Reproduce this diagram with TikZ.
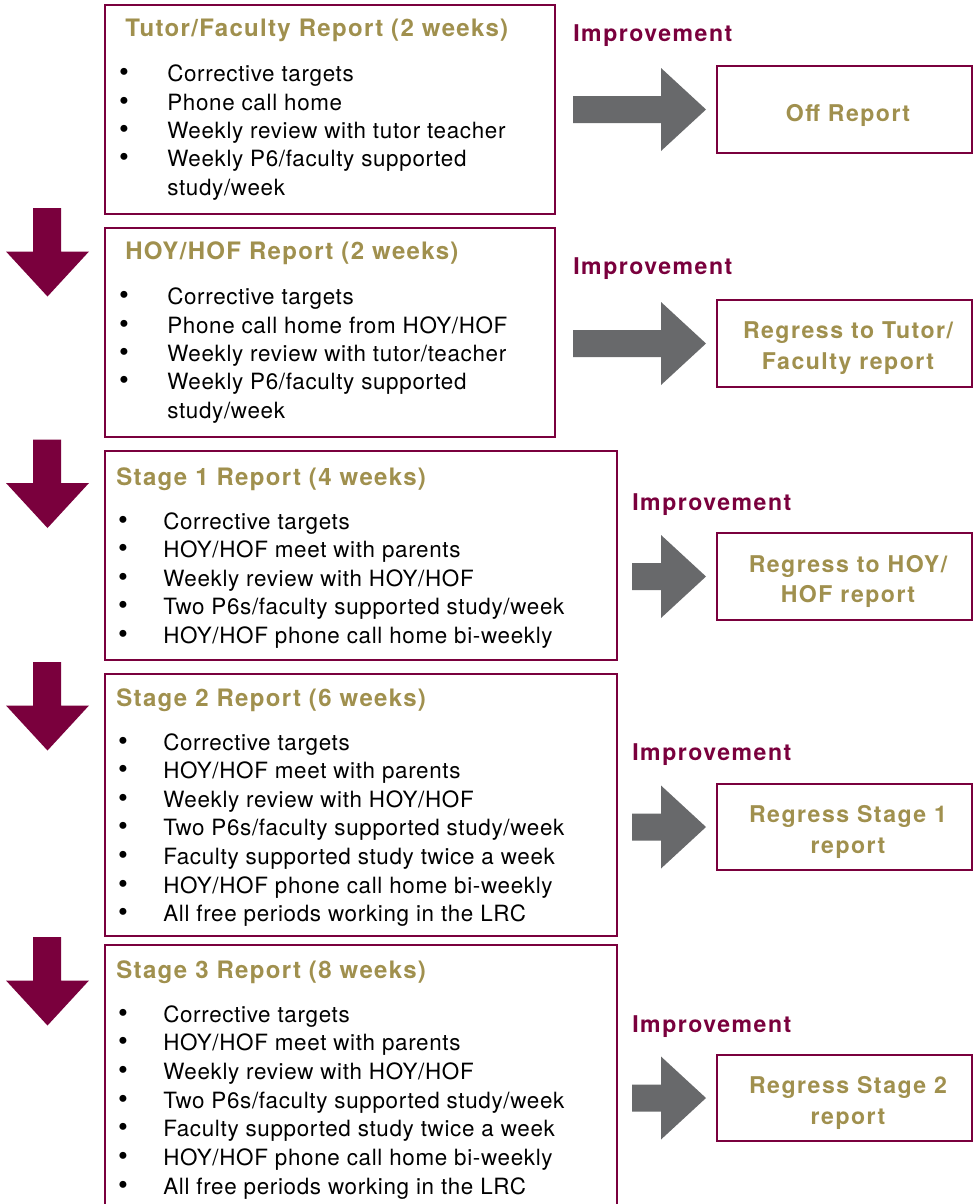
\documentclass[tikz,border=0pt]{standalone}
\usepackage{fontspec}
\setmainfont{TeX Gyre Heros}
\newfontfamily\bodyf[LetterSpace=3]{TeX Gyre Heros}
\newfontfamily\headf[LetterSpace=6.5]{TeX Gyre Heros}
\newfontfamily\titf[LetterSpace=5.5]{TeX Gyre Heros}
\usetikzlibrary{fit}
\definecolor{repmaroon}{RGB}{122,0,61}
\definecolor{repgold}{RGB}{160,144,78}
\definecolor{repgrey}{RGB}{104,105,107}
\newcommand\bitem[5]{%
  \node[bulsty] (#1b) at (#2,#4) {•};
  \node[itemsty] (#1) at (#3,#4) {#5};}
\begin{document}
\begin{tikzpicture}[x=0.75pt,y=-0.75pt,
  box/.style={draw=repmaroon, line width=2pt, inner sep=0pt},
  titlesty/.style={anchor=base west, inner sep=0pt, text=repgold, font=\titf\bfseries\fontsize{18}{21}\selectfont},
  impsty/.style={anchor=base west, inner sep=0pt, text=repmaroon, font=\headf\bfseries\fontsize{17.3}{21}\selectfont},
  restext/.style={anchor=base, inner sep=0pt, text=repgold, font=\headf\bfseries\fontsize{17.3}{21}\selectfont},
  itemsty/.style={anchor=base west, inner sep=0pt, text=black, font=\bodyf\fontsize{16.8}{20}\selectfont},
  bulsty/.style={anchor=base, inner sep=0pt, text=black, font=\bodyf\fontsize{21}{20}\selectfont},
  downarr/.style={fill=repmaroon, draw=none},
  rightarr/.style={fill=repgrey, draw=none}]
\clip (0,0) rectangle (979,1204);
\fill[white] (0,0) rectangle (979,1204);

% ---------- left boxes ----------
\coordinate (b1nw) at (105,5);   \coordinate (b1se) at (555,214);
\coordinate (b2nw) at (105,228); \coordinate (b2se) at (555,437);
\coordinate (b3nw) at (105,451); \coordinate (b3se) at (617,660);
\coordinate (b4nw) at (105,674); \coordinate (b4se) at (617,936);
\coordinate (b5nw) at (105,945); \coordinate (b5se) at (617,1215);
\node[box, fit=(b1nw)(b1se)] (box1) {};
\node[box, fit=(b2nw)(b2se)] (box2) {};
\node[box, fit=(b3nw)(b3se)] (box3) {};
\node[box, fit=(b4nw)(b4se)] (box4) {};
\node[box, fit=(b5nw)(b5se)] (box5) {};

% ---------- right boxes ----------
\coordinate (r1nw) at (717,66);   \coordinate (r1se) at (972,153);
\coordinate (r2nw) at (717,300);  \coordinate (r2se) at (972,387);
\coordinate (r3nw) at (717,533);  \coordinate (r3se) at (972,620);
\coordinate (r4nw) at (717,784);  \coordinate (r4se) at (972,870);
\coordinate (r5nw) at (717,1055); \coordinate (r5se) at (972,1141);
\node[box, fit=(r1nw)(r1se)] (res1) {};
\node[box, fit=(r2nw)(r2se)] (res2) {};
\node[box, fit=(r3nw)(r3se)] (res3) {};
\node[box, fit=(r4nw)(r4se)] (res4) {};
\node[box, fit=(r5nw)(r5se)] (res5) {};

\node[restext] (res1t) at (848,121) {Off Report};
\node[restext] (res2t1) at (848,338) {Regress to Tutor/};
\node[restext] (res2t2) at (848,369) {Faculty report};
\node[restext] (res3t1) at (848,572) {Regress to HOY/};
\node[restext] (res3t2) at (848,602) {HOF report};
\node[restext] (res4t1) at (848,822) {Regress Stage 1};
\node[restext] (res4t2) at (848,853) {report};
\node[restext] (res5t1) at (848,1093) {Regress Stage 2};
\node[restext] (res5t2) at (848,1124) {report};

% ---------- Improvement labels ----------
\node[impsty] (imp1) at (573,41) {Improvement};
\node[impsty] (imp2) at (573,274) {Improvement};
\node[impsty] (imp3) at (632,510) {Improvement};
\node[impsty] (imp4) at (632,760) {Improvement};
\node[impsty] (imp5) at (632,1032) {Improvement};

% ---------- grey arrows ----------
\foreach \s/\c in {573/109.5, 573/343.5, 632/576.5, 632/827, 632/1098}{
  \fill[rightarr] (\s,\c-13.5) -- (661,\c-13.5) -- (661,\c-41.5) -- (706,\c)
     -- (661,\c+41.5) -- (661,\c+13.5) -- (\s,\c+13.5) -- cycle;
}

% ---------- maroon down arrows ----------
\foreach \t in {208, 439.5, 662, 937}{
  \fill[downarr] (33,\t) -- (61,\t) -- (61,\t+43.5) -- (89,\t+43.5) -- (47.5,\t+88.5)
     -- (6,\t+43.5) -- (33,\t+43.5) -- cycle;
}

% ---------- box 1 ----------
\node[titlesty] (t1) at (125,36) {Tutor/Faculty Report (2 weeks)};
\bitem{a1}{124}{167}{81.7}{Corrective targets}
\bitem{a2}{124}{167}{110}{Phone call home}
\bitem{a3}{124}{167}{138.3}{Weekly review with tutor teacher}
\bitem{a4}{124}{167}{166.7}{Weekly P6/faculty supported}
\node[itemsty] (a4c) at (167,195) {study/week};

% ---------- box 2 ----------
\node[titlesty] (t2) at (125,259) {HOY/HOF Report (2 weeks)};
\bitem{c1}{124}{167}{304.5}{Corrective targets}
\bitem{c2}{124}{167}{333}{Phone call home from HOY/HOF}
\bitem{c3}{124}{167}{361.3}{Weekly review with tutor/teacher}
\bitem{c4}{124}{167}{389.7}{Weekly P6/faculty supported}
\node[itemsty] (c4c) at (167,418) {study/week};

% ---------- box 3 ----------
\node[titlesty] (t3) at (116,485) {Stage 1 Report (4 weeks)};
\bitem{d1}{123}{163}{529}{Corrective targets}
\bitem{d2}{123}{163}{557.6}{HOY/HOF meet with parents}
\bitem{d3}{123}{163}{586.2}{Weekly review with HOY/HOF}
\bitem{d4}{123}{163}{614.8}{Two P6s/faculty supported study/week}
\bitem{d5}{123}{163}{643.4}{HOY/HOF phone call home bi-weekly}

% ---------- box 4 ----------
\node[titlesty] (t4) at (116,706) {Stage 2 Report (6 weeks)};
\bitem{e1}{123}{163}{750}{Corrective targets}
\bitem{e2}{123}{163}{778.6}{HOY/HOF meet with parents}
\bitem{e3}{123}{163}{807.2}{Weekly review with HOY/HOF}
\bitem{e4}{123}{163}{835.8}{Two P6s/faculty supported study/week}
\bitem{e5}{123}{163}{864.4}{Faculty supported study twice a week}
\bitem{e6}{123}{163}{893}{HOY/HOF phone call home bi-weekly}
\bitem{e7}{123}{163}{921.6}{All free periods working in the LRC}

% ---------- box 5 ----------
\node[titlesty] (t5) at (116,978) {Stage 3 Report (8 weeks)};
\bitem{f1}{123}{163}{1022}{Corrective targets}
\bitem{f2}{123}{163}{1050.7}{HOY/HOF meet with parents}
\bitem{f3}{123}{163}{1079.3}{Weekly review with HOY/HOF}
\bitem{f4}{123}{163}{1108}{Two P6s/faculty supported study/week}
\bitem{f5}{123}{163}{1136.7}{Faculty supported study twice a week}
\bitem{f6}{123}{163}{1165.3}{HOY/HOF phone call home bi-weekly}
\bitem{f7}{123}{163}{1194}{All free periods working in the LRC}
\end{tikzpicture}
\end{document}
